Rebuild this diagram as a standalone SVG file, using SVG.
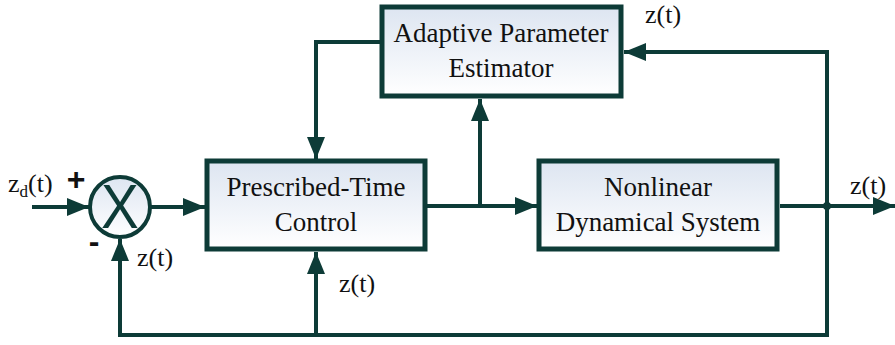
<svg xmlns="http://www.w3.org/2000/svg" width="895" height="345" viewBox="0 0 895 345">
<defs>
<linearGradient id="boxfill" x1="0" y1="0" x2="0" y2="1">
<stop offset="0" stop-color="#dde5f1"/>
<stop offset="1" stop-color="#ffffff"/>
</linearGradient>
<marker id="arr" markerUnits="userSpaceOnUse" markerWidth="24" markerHeight="20" refX="22" refY="10" orient="auto">
<path d="M0,1 L22,10 L0,19 Z" fill="#0d3b37"/>
</marker>
</defs>
<style>
.box{fill:url(#boxfill);stroke:#0d3b37;stroke-width:5}
.ln{fill:none;stroke:#0d3b37;stroke-width:4}
.lbl{font-family:"Liberation Serif","Times New Roman",serif;font-size:27px;fill:#111;text-anchor:middle}
.sig{font-family:"Liberation Serif","Times New Roman",serif;font-size:26px;fill:#111}
</style>
<g id="connectors">
<line class="ln" x1="32" y1="207" x2="89" y2="207" marker-end="url(#arr)"/>
<line class="ln" x1="151" y1="207" x2="205" y2="207" marker-end="url(#arr)"/>
<line class="ln" x1="427" y1="206" x2="537" y2="206" marker-end="url(#arr)"/>
<line class="ln" x1="480" y1="206" x2="480" y2="99" marker-end="url(#arr)"/>
<line class="ln" x1="780" y1="206" x2="895" y2="206" marker-end="url(#arr)"/>
<polyline class="ln" points="827,206 827,335 120,335 120,239" marker-end="url(#arr)"/>
<polyline class="ln" points="827,206 827,52 624,52" marker-end="url(#arr)"/>
<line class="ln" x1="316" y1="335" x2="316" y2="252" marker-end="url(#arr)"/>
<polyline class="ln" points="380,42 316,42 316,159" marker-end="url(#arr)"/>
<circle cx="827" cy="206" r="4" fill="#0d3b37"/>
</g>
<g id="sum">
<circle cx="120" cy="207" r="30" fill="url(#boxfill)" stroke="#0d3b37" stroke-width="4"/>
<text x="120" y="228" font-family="'Liberation Sans',Arial,sans-serif" font-size="63" fill="#0d3b37" text-anchor="middle" transform="translate(120 0) scale(0.9 1) translate(-120 0)">X</text>
<text x="76" y="190" font-family="'Liberation Sans',Arial,sans-serif" font-size="32" font-weight="bold" fill="#111" text-anchor="middle">+</text>
<text x="94" y="252" font-family="'Liberation Sans',Arial,sans-serif" font-size="32" font-weight="bold" fill="#111" text-anchor="middle">-</text>
</g>
<g id="estimator">
<rect class="box" x="382" y="7" width="239" height="89"/>
<text class="lbl" x="501" y="42">Adaptive Parameter</text>
<text class="lbl" x="501" y="77">Estimator</text>
</g>
<g id="controller">
<rect class="box" x="207" y="161" width="218" height="88"/>
<text class="lbl" x="316" y="196">Prescribed-Time</text>
<text class="lbl" x="316" y="231">Control</text>
</g>
<g id="plant">
<rect class="box" x="539" y="161" width="238" height="88"/>
<text class="lbl" x="658" y="196">Nonlinear</text>
<text class="lbl" x="658" y="231">Dynamical System</text>
</g>
<g id="labels">
<text class="sig" x="8" y="192">z<tspan font-size="17" dy="5">d</tspan><tspan dy="-5">(t)</tspan></text>
<text class="sig" x="137" y="266">z(t)</text>
<text class="sig" x="339" y="292">z(t)</text>
<text class="sig" x="645" y="23">z(t)</text>
<text class="sig" x="850" y="194">z(t)</text>
</g>
</svg>
